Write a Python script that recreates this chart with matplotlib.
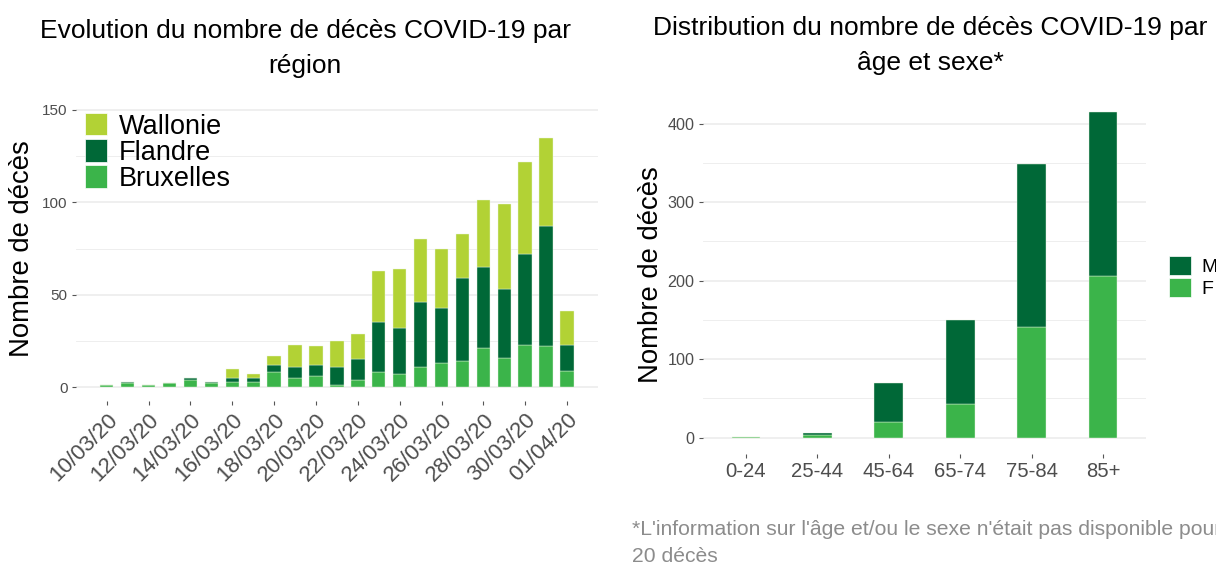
import matplotlib
matplotlib.use("Agg")
import matplotlib.pyplot as plt
from matplotlib.patches import Patch
import numpy as np

plt.rcParams['font.family'] = ['Liberation Sans', 'DejaVu Sans']

# ---------------- data ----------------
dates = ["10/03/20", "11/03/20", "12/03/20", "13/03/20", "14/03/20", "15/03/20",
         "16/03/20", "17/03/20", "18/03/20", "19/03/20", "20/03/20", "21/03/20",
         "22/03/20", "23/03/20", "24/03/20", "25/03/20", "26/03/20", "27/03/20",
         "28/03/20", "29/03/20", "30/03/20", "31/03/20", "01/04/20"]
bruxelles = [1, 2, 1, 2, 4, 2, 3, 3, 8, 5, 6, 1, 4, 8, 7, 11, 13, 14, 21, 16, 23, 22, 9]
flandre   = [0, 1, 0, 0, 1, 1, 2, 2, 4, 6, 6, 10, 11, 27, 25, 35, 30, 45, 44, 37, 49, 65, 14]
wallonie  = [0, 0, 0, 0, 0, 0, 5, 2, 5, 12, 10, 14, 14, 28, 32, 34, 32, 24, 36, 46, 50, 48, 18]

age_groups = ["0-24", "25-44", "45-64", "65-74", "75-84", "85+"]
deaths_f = [1, 4, 20, 43, 141, 206]
deaths_m = [0, 2, 50, 107, 208, 209]

C_WAL = "#B2D235"
C_FLA = "#006837"
C_BRU = "#3BB44A"
GRID = "#EBEBEB"
TXT = "#4D4D4D"

W, H = 1216, 566
fig = plt.figure(figsize=(W / 100, H / 100), dpi=100)


def rect(x0, y0, x1, y1):
    return [x0 / W, 1 - y1 / H, (x1 - x0) / W, (y1 - y0) / H]


def style(ax):
    for s in ax.spines.values():
        s.set_visible(False)
    ax.grid(True, which='major', axis='y', color=GRID, lw=1.1)
    ax.grid(True, which='minor', axis='y', color=GRID, lw=0.6)
    ax.set_axisbelow(True)
    ax.tick_params(which='major', length=3.0, width=0.8, color='#555555',
                   labelcolor=TXT, pad=3)
    ax.tick_params(which='minor', length=0)


# ---------------- left chart ----------------
ax1 = fig.add_axes(rect(76, 96, 598, 401))
x = np.arange(len(dates))
bru = np.array(bruxelles)
fla = np.array(flandre)
wal = np.array(wallonie)
bw = 0.64
ax1.bar(x, bru, bw, color=C_BRU, edgecolor='#E8F4E0', linewidth=0.3, label='Bruxelles')
ax1.bar(x, fla, bw, bottom=bru, color=C_FLA, edgecolor='#E8F4E0', linewidth=0.3, label='Flandre')
ax1.bar(x, wal, bw, bottom=bru + fla, color=C_WAL, edgecolor='#E8F4E0', linewidth=0.3, label='Wallonie')
ax1.set_xlim(-1.47, 23.48)
ax1.set_ylim(-7.5, 157.5)
ax1.set_yticks([0, 50, 100, 150])
ax1.set_yticks([25, 75, 125], minor=True)
ax1.set_xticks(x[::2])
ax1.set_xticklabels(dates[::2], rotation=45, ha='right', va='top',
                    rotation_mode='anchor', fontsize=16)
style(ax1)
ax1.tick_params(axis='y', labelsize=11)

handles = [Patch(facecolor=C_WAL, edgecolor='white', lw=0.5, label='Wallonie'),
           Patch(facecolor=C_FLA, edgecolor='white', lw=0.5, label='Flandre'),
           Patch(facecolor=C_BRU, edgecolor='white', lw=0.5, label='Bruxelles')]
fig.legend(handles=handles, loc='upper left', bbox_to_anchor=(85 / W, 1 - 113 / H),
           frameon=False, fontsize=19.5, handlelength=0.8, handleheight=0.9,
           handletextpad=0.45, labelspacing=-0.02, borderpad=0, borderaxespad=0)

fig.text(305 / W, 1 - 19 / H, "Evolution du nombre de décès COVID-19 par\nrégion",
         ha='center', va='top', fontsize=19, linespacing=1.6, color='black')
fig.text(22 / W, 1 - 248.5 / H, "Nombre de décès", rotation=90, ha='center',
         va='center', fontsize=19.8, color='black')

# ---------------- right chart ----------------
ax2 = fig.add_axes(rect(703, 95.6, 1146, 454))
xa = np.arange(len(age_groups))
f = np.array(deaths_f)
m = np.array(deaths_m)
ax2.bar(xa, f, 0.4, color=C_BRU, edgecolor='#E8F4E0', linewidth=0.3, label='F')
ax2.bar(xa, m, 0.4, bottom=f, color=C_FLA, edgecolor='#E8F4E0', linewidth=0.3, label='M')
ax2.set_xlim(-0.6, 5.6)
ax2.set_ylim(-20.75, 435.75)
ax2.set_yticks([0, 100, 200, 300, 400])
ax2.set_yticks([50, 150, 250, 350], minor=True)
ax2.set_xticks(xa)
ax2.set_xticklabels(age_groups, fontsize=14.6)
style(ax2)
ax2.tick_params(axis='y', labelsize=11.6)

handles2 = [Patch(facecolor=C_FLA, edgecolor='white', lw=0.5, label='M'),
            Patch(facecolor=C_BRU, edgecolor='white', lw=0.5, label='F')]
fig.legend(handles=handles2, loc='upper left', bbox_to_anchor=(1169 / W, 1 - 256 / H),
           frameon=False, fontsize=14, handlelength=1.13, handleheight=1.1,
           handletextpad=0.55, labelspacing=0.12, borderpad=0, borderaxespad=0)

fig.text(930 / W, 1 - 16 / H, "Distribution du nombre de décès COVID-19 par\nâge et sexe*",
         ha='center', va='top', fontsize=19, linespacing=1.6, color='black')
fig.text(651 / W, 1 - 275 / H, "Nombre de décès", rotation=90, ha='center',
         va='center', fontsize=19.8, color='black')

fig.text(632 / W, 1 - 520 / H,
         "*L'information sur l'âge et/ou le sexe n'était pas disponible pour\n20 décès",
         ha='left', va='top', fontsize=15.2, linespacing=1.55, color='#8C8C8C')

fig.savefig("out.png", dpi=100)
